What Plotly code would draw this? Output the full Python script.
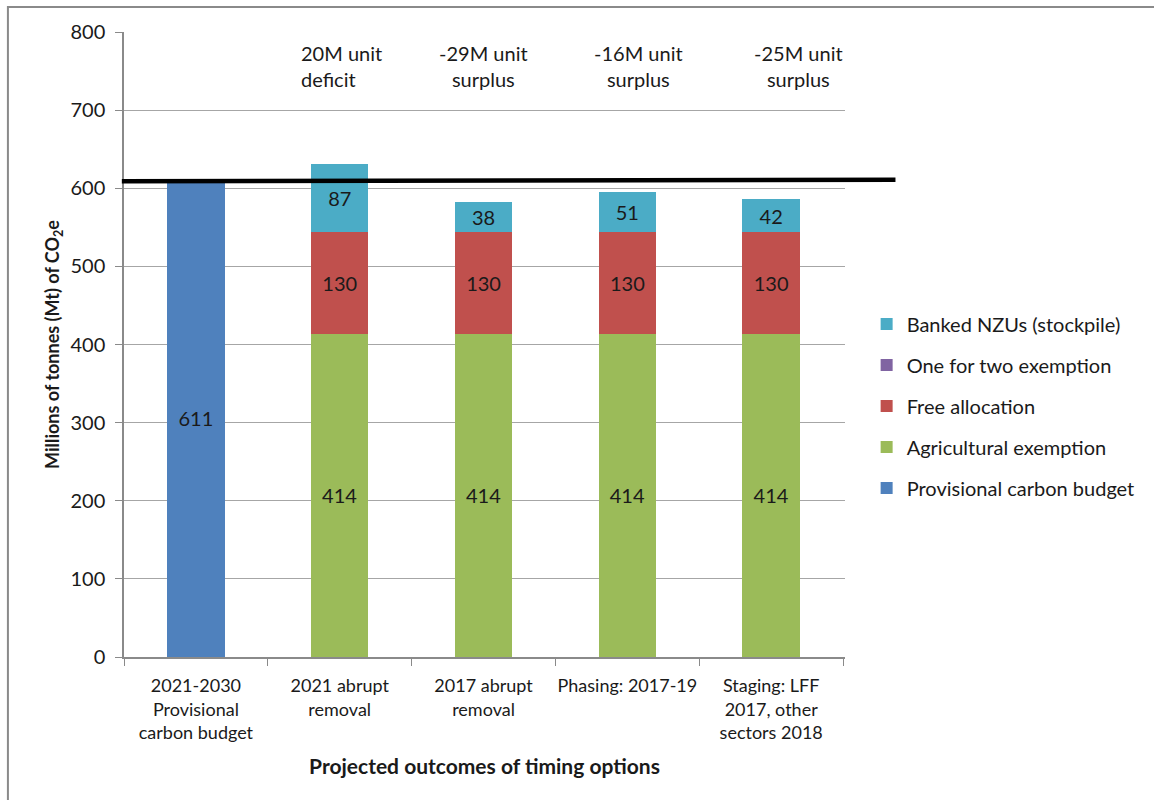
import plotly.graph_objects as go

# Timing options compared against the provisional carbon budget
categories = [
    "2021-2030<br>Provisional<br>carbon budget",
    "2021 abrupt<br>removal",
    "2017 abrupt<br>removal",
    "Phasing: 2017-19",
    "Staging: LFF<br>2017, other<br>sectors 2018",
]
budget = [611, None, None, None, None]
agricultural = [None, 414, 414, 414, 414]
free_allocation = [None, 130, 130, 130, 130]
one_for_two = [0, 0, 0, 0, 0]
banked = [None, 87, 38, 51, 42]
budget_line = 611
balance_notes = ["20M unit<br>deficit", "-29M unit<br>surplus",
                 "-16M unit<br>surplus", "-25M unit<br>surplus"]

FONT = "Lato, 'Open Sans', sans-serif"
TXT = "#1a1a1a"

# (name, values, colour, legend rank) - stacked bottom-up, legend listed top-down
series = [
    ("Provisional carbon budget", budget, "#4F81BD", 5),
    ("Agricultural exemption", agricultural, "#9BBB59", 4),
    ("Free allocation", free_allocation, "#C0504D", 3),
    ("One for two exemption", one_for_two, "#8064A2", 2),
    ("Banked NZUs (stockpile)", banked, "#4BACC6", 1),
]

fig = go.Figure()
for name, vals, color, rank in series:
    labelled = name != "One for two exemption"
    fig.add_trace(go.Bar(
        name=name, x=categories, y=vals, legendgroup=name, legendrank=rank,
        marker=dict(color=color, line=dict(width=0)),
        texttemplate="%{y}",
        textposition="inside" if labelled else "none",
        insidetextanchor="middle", textangle=0,
        constraintext="none",
        textfont=dict(family=FONT, size=20, color=TXT),
    ))

# Budget reference line across the plot
fig.add_shape(type="line", xref="paper", yref="y",
              x0=-0.003, x1=1.07, y0=budget_line - 2, y1=budget_line,
              line=dict(color="black", width=4.5), layer="above")

# Outer frame
fig.add_shape(type="rect", xref="paper", yref="paper",
              x0=-0.161, x1=1.45, y0=-0.25, y1=1.04,
              line=dict(color="#8a8a8a", width=2), layer="below")

note_pos = [(0.72, "left"), (2.0, "center"), (3.08, "center"), (4.19, "center")]
for text, (xpos, anchor) in zip(balance_notes, note_pos):
    fig.add_annotation(x=xpos, y=756, xref="x", yref="y", text=text,
                       showarrow=False, xanchor=anchor, yanchor="middle",
                       align=anchor,
                       font=dict(family=FONT, size=20, color=TXT))

fig.update_layout(
    width=1154, height=800,
    margin=dict(l=124, r=309, t=32, b=143, autoexpand=False),
    paper_bgcolor="white", plot_bgcolor="white",
    barmode="stack", bargap=0.6,
    font=dict(family=FONT, size=20, color=TXT),
    showlegend=True,
    legend=dict(traceorder="grouped", tracegroupgap=12,
                x=1.03, xanchor="left", y=0.564, yanchor="top",
                font=dict(family=FONT, size=20, color=TXT),
                itemclick=False, bgcolor="rgba(0,0,0,0)"),
    xaxis=dict(
        type="category", showgrid=False, automargin=False,
        showline=True, linecolor="#8a8a8a", linewidth=1.5,
        ticks="outside", tickson="boundaries", ticklen=7, tickcolor="#8a8a8a",
        ticklabelstandoff=12, tickangle=0,
        tickfont=dict(family=FONT, size=18, color=TXT),
        title=dict(text="<b>Projected outcomes of timing options</b>",
                   font=dict(family=FONT, size=21, color=TXT), standoff=17),
    ),
    yaxis=dict(
        range=[0, 800], dtick=100, automargin=False,
        showgrid=True, gridcolor="#a6a6a6", gridwidth=1,
        showline=True, linecolor="#8a8a8a", linewidth=1.5,
        ticks="outside", ticklen=7, tickcolor="#8a8a8a",
        ticklabelstandoff=6,
        tickfont=dict(family=FONT, size=20, color=TXT),
        zeroline=False,
        title=dict(text="<b>Millions of tonnes (Mt) of CO<sub>2</sub>e</b>",
                   font=dict(family=FONT, size=18, color=TXT), standoff=6),
    ),
)

fig.write_html("out.html")
